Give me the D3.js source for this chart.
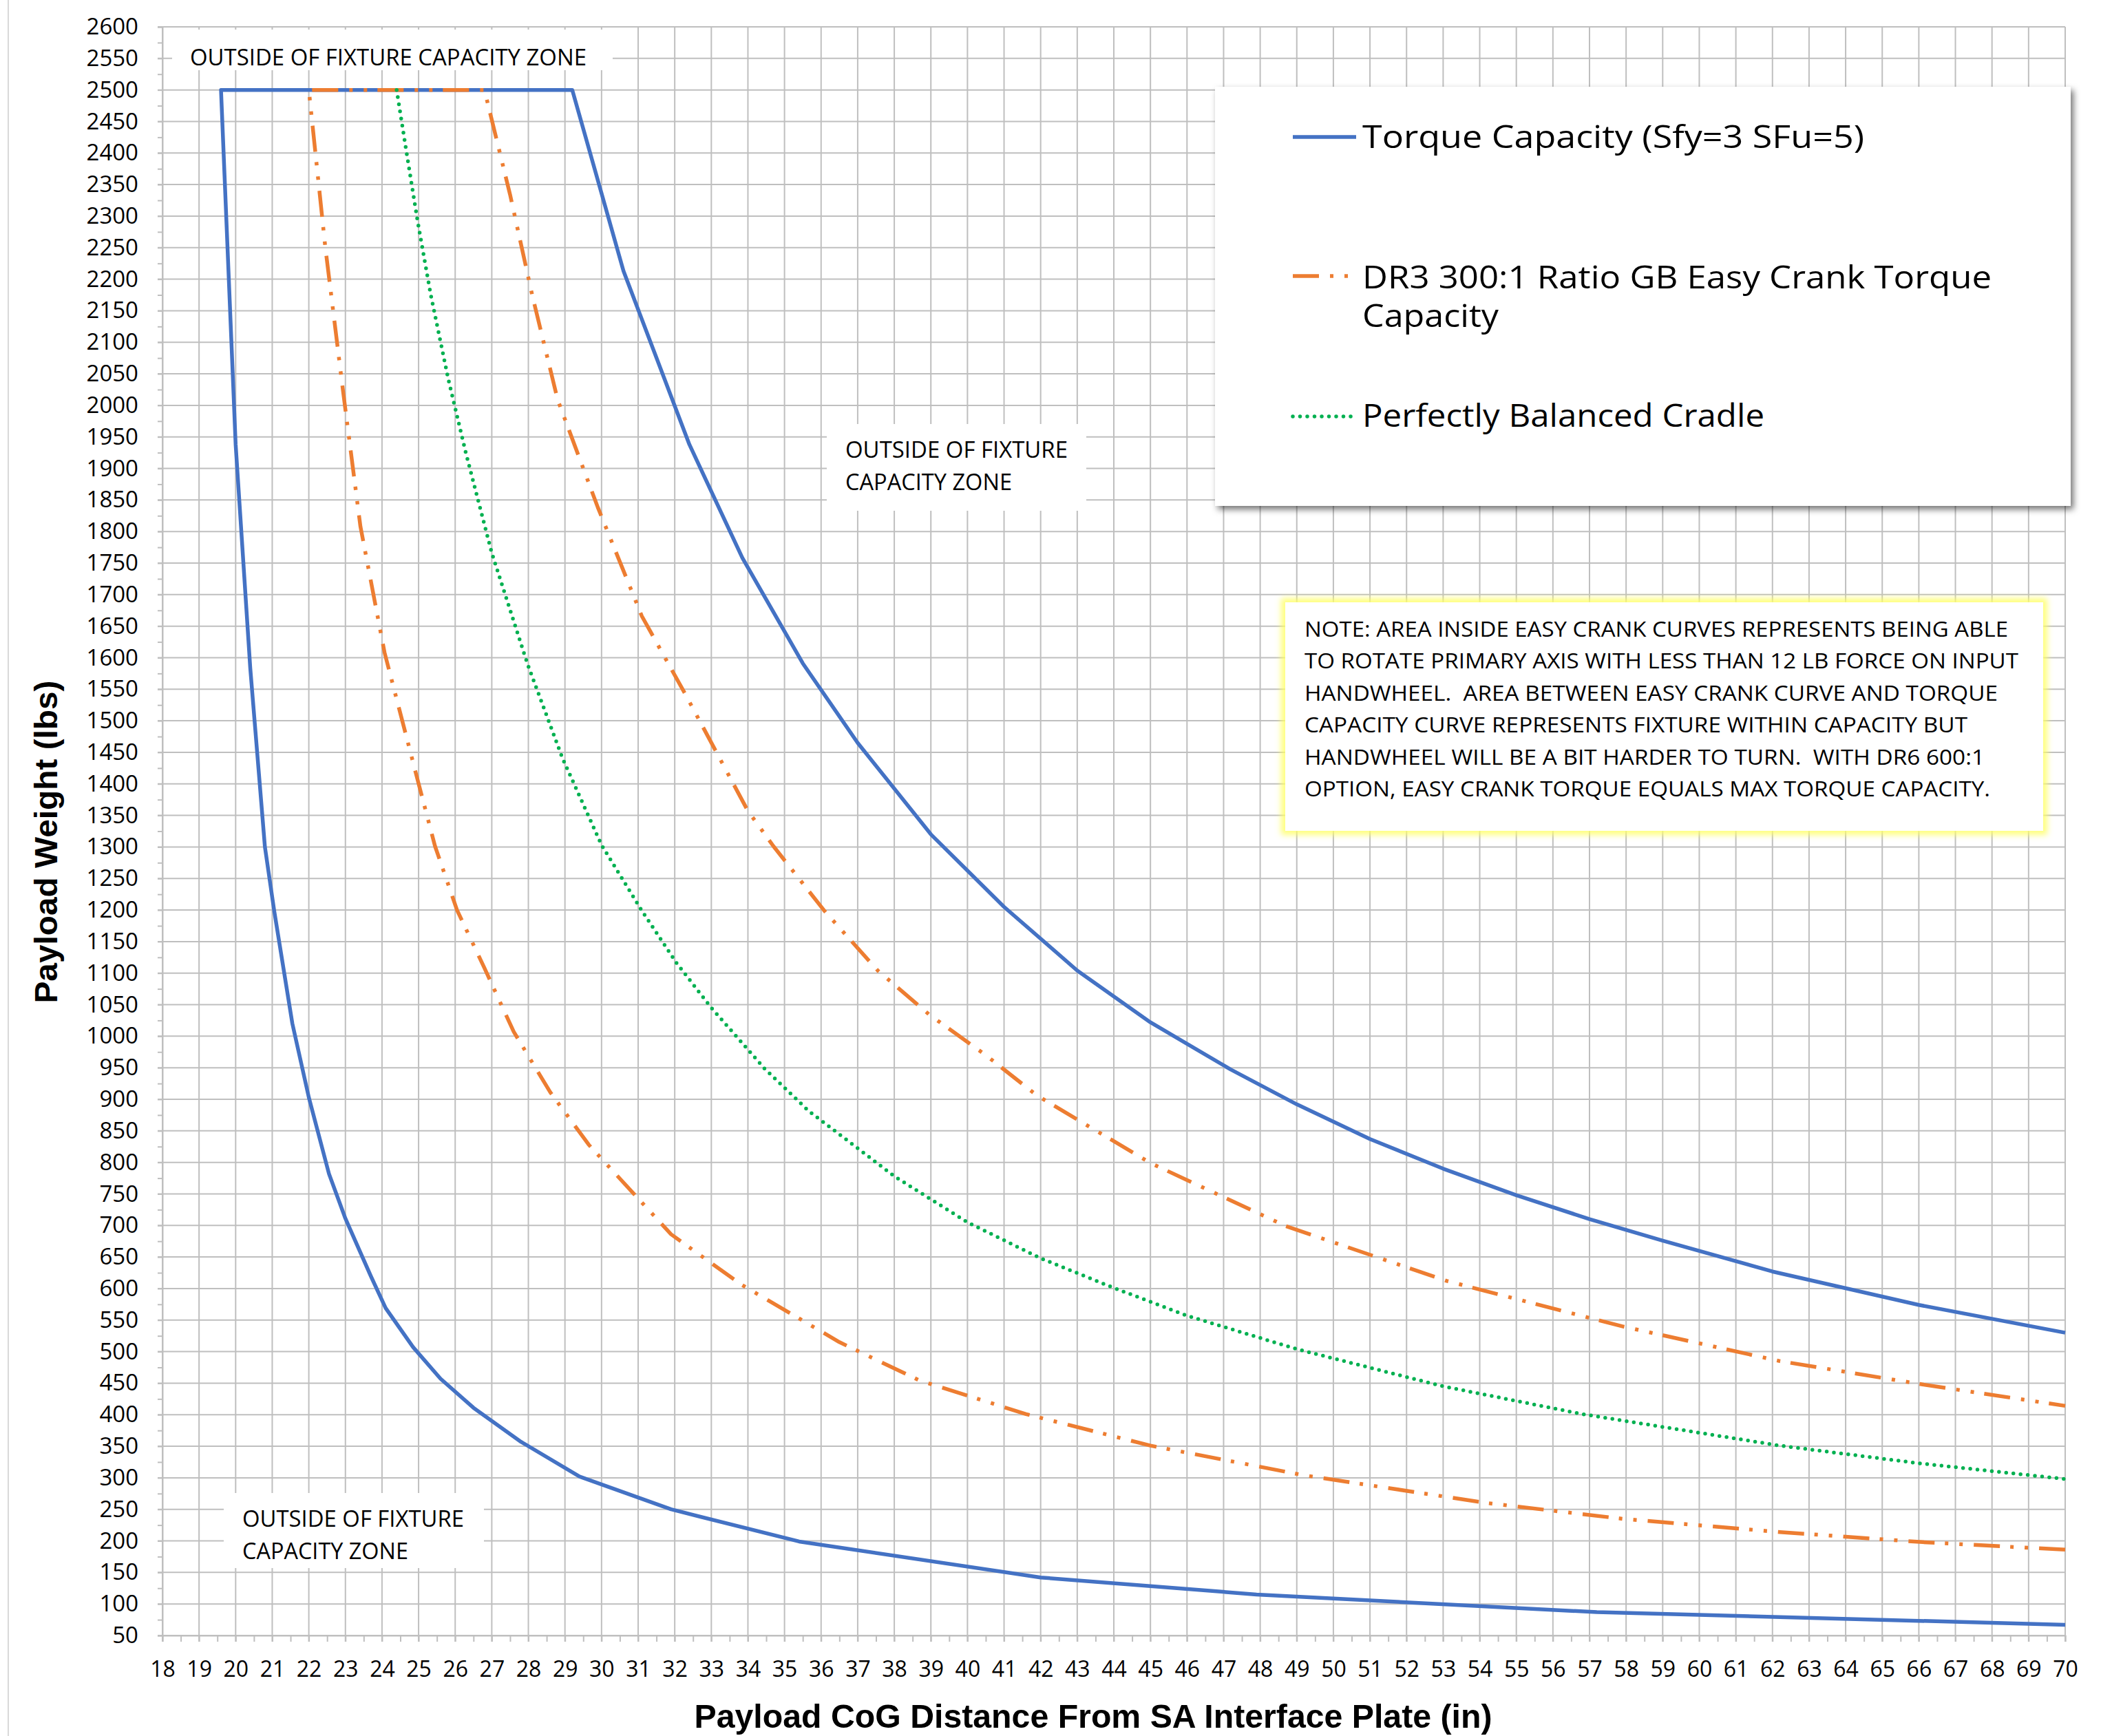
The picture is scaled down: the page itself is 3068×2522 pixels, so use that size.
<!DOCTYPE html>
<html lang="en">

<head>
  <meta charset="UTF-8" />
  <title>Payload Capacity Chart</title>
  <script src="https://d3js.org/d3.v7.min.js"></script>
  <style>
    body {
      margin: 0;
      background-color: #ffffff;
    }

    .grid line {
      stroke: #bfbfbf;
      stroke-width: 2px;
    }

    .axis path,
    .axis line {
      stroke: #bfbfbf;
      stroke-width: 2px;
    }

    .axis text {
      fill: #000000;
      font-family: "Open Sans", sans-serif;
    }

    .axis-title {
      font-family: "Liberation Sans", Arial, sans-serif;
      font-weight: bold;
      fill: #000000;
    }

    .label {
      font-family: "Open Sans", sans-serif;
      fill: #000000;
    }

    .series {
      fill: none;
    }
  </style>
</head>

<body>
  <svg id="chart" width="3068" height="2522"></svg>

  <script>
    // ---- data (x = CoG distance in, y = payload lbs) ----
    const torqueCapacity = [
      [70, 67], [57.2, 87], [47.9, 115], [42.0, 142], [35.4, 199], [31.9, 250],
      [29.4, 302], [27.8, 357], [26.5, 411], [25.6, 457], [24.85, 507], [24.1, 569],
      [23.7, 619], [23.0, 711], [22.55, 782], [22.0, 903], [21.55, 1020], [21.05, 1200],
      [20.8, 1300], [20.4, 1583], [20.0, 1938], [19.6, 2500],
      [29.2, 2500], [30.6, 2213], [32.4, 1938], [33.85, 1758], [35.5, 1591], [37.0, 1465],
      [39.0, 1320], [41.0, 1205], [43.0, 1104], [45.0, 1022], [47.2, 947], [49.0, 892],
      [51.0, 837], [53.0, 790], [55.0, 748], [57.0, 710], [59.0, 676], [62.0, 627],
      [66.0, 574], [70.0, 530]
    ];

    const easyCrankDR3 = [
      [70, 186], [66.1, 198], [62.2, 214], [57.9, 235], [54.2, 260], [49.2, 304],
      [45.0, 351], [41.6, 401], [38.7, 454], [36.5, 515], [33.8, 607], [31.9, 686],
      [30.9, 749], [29.65, 828], [28.6, 911], [27.6, 1007], [26.8, 1108], [26.05, 1200],
      [25.45, 1301], [24.97, 1407], [24.07, 1608], [23.41, 1808], [22.93, 2025],
      [22.45, 2251], [22.0, 2500],
      [26.8, 2500], [27.5, 2334], [28.1, 2176], [28.8, 2009], [29.9, 1838], [31.1, 1666],
      [32.3, 1541], [34.0, 1357], [34.7, 1301], [36.1, 1198], [37.55, 1104], [38.96, 1034],
      [40.5, 970], [41.9, 906], [45.0, 799], [48.7, 699], [53.1, 612], [57.9, 540],
      [62.2, 485], [66.1, 448], [70.0, 414]
    ];

    const balancedCradle = [
      [24.4, 2500], [24.67, 2401], [24.97, 2293], [25.33, 2176], [25.81, 2042],
      [26.29, 1925], [27.0, 1766], [27.97, 1591], [28.93, 1441], [30.0, 1303],
      [31.09, 1200], [32.05, 1116], [33.0, 1045], [34.45, 949], [35.65, 882],
      [36.6, 840], [38.0, 778], [40.0, 705], [42.0, 648], [44.0, 601], [46.0, 557],
      [49.0, 504], [53.0, 445], [56.8, 401], [62.2, 351], [66.0, 323], [70.0, 298]
    ];

    const xTickValues = d3.range(18, 70.01, 0.5);   // labels on whole inches
    const yTickValues = d3.range(50, 2600.1, 25);   // labels every 50 lbs

    const legendLabels = [
      ["Torque Capacity (Sfy=3 SFu=5)"],
      ["DR3 300:1 Ratio GB Easy Crank Torque", "Capacity"],
      ["Perfectly Balanced Cradle"]
    ];

    const noteLines = [
      "NOTE: AREA INSIDE EASY CRANK CURVES REPRESENTS BEING ABLE",
      "TO ROTATE PRIMARY AXIS WITH LESS THAN 12 LB FORCE ON INPUT",
      "HANDWHEEL.  AREA BETWEEN EASY CRANK CURVE AND TORQUE",
      "CAPACITY CURVE REPRESENTS FIXTURE WITHIN CAPACITY BUT",
      "HANDWHEEL WILL BE A BIT HARDER TO TURN.  WITH DR6 600:1",
      "OPTION, EASY CRANK TORQUE EQUALS MAX TORQUE CAPACITY."
    ];

    const zoneLabels = [
      ["OUTSIDE OF FIXTURE CAPACITY ZONE"],
      ["OUTSIDE OF FIXTURE", "CAPACITY ZONE"],
      ["OUTSIDE OF FIXTURE", "CAPACITY ZONE"]
    ];

    // ---- layout ----
    const svg = d3.select("#chart");
    const plot = { left: 236, right: 3000, top: 39, bottom: 2376 };

    const x = d3.scaleLinear().domain([18, 70]).range([plot.left, plot.right]);
    const y = d3.scaleLinear().domain([50, 2600]).range([plot.bottom, plot.top]);

    const lineWidth = 5.5;
    const seriesStyle = [
      { data: torqueCapacity, color: "#4472c4", dash: null, cap: "butt" },
      { data: easyCrankDR3, color: "#ed7d31", dash: "38 16 5 16 5 15", cap: "butt" },
      { data: balancedCradle, color: "#00b050", dash: "0 10.5", cap: "round" }
    ];

    const defs = svg.append("defs");
    const shadow = defs.append("filter").attr("id", "shadow")
      .attr("x", "-5%").attr("y", "-5%").attr("width", "112%").attr("height", "115%");
    shadow.append("feDropShadow")
      .attr("dx", 4).attr("dy", 5).attr("stdDeviation", 5)
      .attr("flood-color", "#000").attr("flood-opacity", 0.55);

    const glow = defs.append("filter").attr("id", "glow")
      .attr("x", "-5%").attr("y", "-10%").attr("width", "110%").attr("height", "120%");
    glow.append("feMorphology").attr("in", "SourceAlpha")
      .attr("operator", "dilate").attr("radius", 6).attr("result", "wide");
    glow.append("feGaussianBlur").attr("in", "wide").attr("stdDeviation", 4).attr("result", "soft");
    glow.append("feFlood").attr("flood-color", "#ffff66").attr("flood-opacity", 0.85);
    glow.append("feComposite").attr("in2", "soft").attr("operator", "in").attr("result", "halo");
    const merge = glow.append("feMerge");
    merge.append("feMergeNode").attr("in", "halo");
    merge.append("feMergeNode").attr("in", "SourceGraphic");

    svg.append("rect").attr("width", 3068).attr("height", 2522).attr("fill", "#fff");

    // chart area border (only left edge is visible in the picture)
    svg.append("line")
      .attr("x1", 12).attr("x2", 12).attr("y1", 0).attr("y2", 2522)
      .attr("stroke", "#d9d9d9").attr("stroke-width", 2);

    // gridlines
    const grid = svg.append("g").attr("class", "grid");
    grid.selectAll("line.h")
      .data(yTickValues.filter((d) => d % 50 === 0))
      .join("line")
      .attr("class", "h")
      .attr("x1", plot.left - 7).attr("x2", plot.right)
      .attr("y1", (d) => y(d)).attr("y2", (d) => y(d));
    grid.selectAll("line.v")
      .data(xTickValues.filter((d) => Number.isInteger(d)))
      .join("line")
      .attr("class", "v")
      .attr("x1", (d) => x(d)).attr("x2", (d) => x(d))
      .attr("y1", plot.top).attr("y2", plot.bottom + 9);

    // axes
    const yAxis = d3.axisLeft(y)
      .tickValues(yTickValues)
      .tickSize(7)
      .tickPadding(28)
      .tickFormat((d) => (d % 50 === 0 ? d : ""));
    svg.append("g")
      .attr("class", "axis")
      .attr("transform", `translate(${plot.left},0)`)
      .call(yAxis)
      .attr("font-size", 33)
      .attr("font-family", null);

    const xAxis = d3.axisBottom(x)
      .tickValues(xTickValues)
      .tickSize(9)
      .tickPadding(28)
      .tickFormat((d) => (Number.isInteger(d) ? d : ""));
    svg.append("g")
      .attr("class", "axis")
      .attr("transform", `translate(0,${plot.bottom})`)
      .call(xAxis)
      .attr("font-size", 32)
      .attr("font-family", null);

    svg.selectAll(".axis .domain").attr("stroke", "#bfbfbf");

    // zone labels with white boxes that cover the grid
    const zoneBoxes = [
      { x: 250, y: 43, w: 640, h: 59, tx: 276, ty: 95, widths: [576] },
      { x: 1201, y: 616, w: 377, h: 126, tx: 1228, ty: 665, widths: [323, 242] },
      { x: 325, y: 2169, w: 378, h: 109, tx: 352, ty: 2218, widths: [322, 241] }
    ];
    zoneBoxes.forEach((b, i) => {
      const g = svg.append("g");
      g.append("rect")
        .attr("x", b.x).attr("y", b.y).attr("width", b.w).attr("height", b.h)
        .attr("fill", "#fff");
      zoneLabels[i].forEach((line, j) => {
        g.append("text")
          .attr("class", "label")
          .attr("x", b.tx)
          .attr("y", b.ty + j * 47)
          .attr("font-size", 32)
          .attr("textLength", b.widths[j])
          .attr("lengthAdjust", "spacingAndGlyphs")
          .text(line);
      });
    });

    // series
    const line = d3.line()
      .x((d) => x(d[0]))
      .y((d) => y(d[1]));

    seriesStyle.forEach((s) => {
      svg.append("path")
        .datum(s.data)
        .attr("class", "series")
        .attr("d", line)
        .attr("stroke", s.color)
        .attr("stroke-width", lineWidth)
        .attr("stroke-linejoin", "round")
        .attr("stroke-linecap", s.cap)
        .attr("stroke-dasharray", s.dash);
    });

    // legend
    const legend = { x: 1765, y: 126, w: 1243, h: 609 };
    svg.append("rect")
      .attr("x", legend.x).attr("y", legend.y)
      .attr("width", legend.w).attr("height", legend.h)
      .attr("fill", "#fff")
      .attr("filter", "url(#shadow)");

    const legendRows = [
      { sampleY: 199, textY: 215, widths: [729] },
      { sampleY: 401, textY: 419, widths: [914, 198] },
      { sampleY: 605, textY: 620, widths: [584] }
    ];
    legendRows.forEach((r, i) => {
      const s = seriesStyle[i];
      svg.append("line")
        .attr("x1", 1878).attr("x2", 1970)
        .attr("y1", r.sampleY).attr("y2", r.sampleY)
        .attr("stroke", s.color)
        .attr("stroke-width", lineWidth)
        .attr("stroke-linecap", s.cap)
        .attr("stroke-dasharray", s.dash);
      legendLabels[i].forEach((t, j) => {
        svg.append("text")
          .attr("class", "label")
          .attr("x", 1979)
          .attr("y", r.textY + j * 56)
          .attr("font-size", 46)
          .attr("textLength", r.widths[j])
          .attr("lengthAdjust", "spacingAndGlyphs")
          .text(t);
      });
    });

    // note box
    const note = { x: 1867, y: 875, w: 1101, h: 332 };
    svg.append("rect")
      .attr("x", note.x).attr("y", note.y)
      .attr("width", note.w).attr("height", note.h)
      .attr("fill", "#fff")
      .attr("filter", "url(#glow)");
    const noteWidths = [1022, 1037, 1007, 963, 988, 996];
    noteLines.forEach((t, i) => {
      svg.append("text")
        .attr("class", "label")
        .attr("x", 1895)
        .attr("y", 925 + i * 46.4)
        .attr("font-size", 30.5)
        .attr("textLength", noteWidths[i])
        .attr("lengthAdjust", "spacingAndGlyphs")
        .style("white-space", "pre")
        .text(t);
    });

    // axis titles
    svg.append("text")
      .attr("class", "axis-title")
      .attr("x", 1588)
      .attr("y", 2510)
      .attr("text-anchor", "middle")
      .attr("font-size", 48)
      .attr("textLength", 1159)
      .attr("lengthAdjust", "spacingAndGlyphs")
      .text("Payload CoG Distance From SA Interface Plate (in)");

    svg.append("text")
      .attr("class", "axis-title")
      .attr("transform", "translate(83,1223) rotate(-90)")
      .attr("text-anchor", "middle")
      .attr("font-size", 47)
      .attr("textLength", 469)
      .attr("lengthAdjust", "spacingAndGlyphs")
      .text("Payload Weight (lbs)");
  </script>
</body>

</html>
